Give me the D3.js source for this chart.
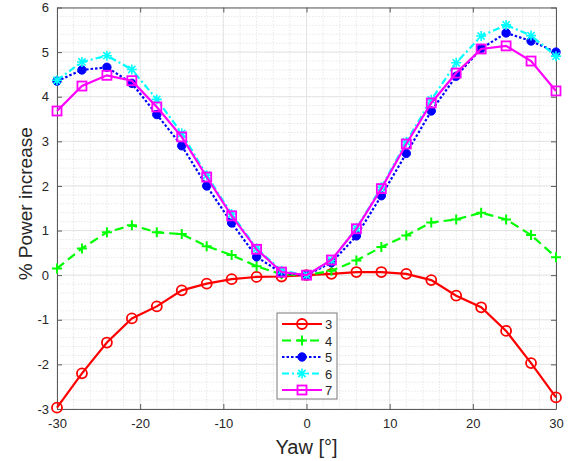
<!DOCTYPE html>
<html lang="en">
<head>
<meta charset="UTF-8">
<title>Power increase vs yaw</title>
<script src="https://d3js.org/d3.v7.min.js"></script>
<style>
    body { margin: 0; background: #fff; font-family: 'Liberation Sans', Arial, sans-serif; }
    svg text { fill: #262626; font-family: 'Liberation Sans', Arial, sans-serif; }
</style>
</head>
<body>
<div id="chart"></div>
<script>
    // Yaw angles (deg)
    const yaw = [-30, -27, -24, -21, -18, -15, -12, -9, -6, -3, 0, 3, 6, 9, 12, 15, 18, 21, 24, 27, 30];

    // % power increase per series
    const s3 = [-2.97, -2.20, -1.51, -0.97, -0.70, -0.34, -0.19, -0.09, -0.04, -0.03, 0, 0.03, 0.07, 0.07, 0.03, -0.11, -0.46, -0.72, -1.25, -1.97, -2.74];
    const s4 = [0.15, 0.60, 0.96, 1.12, 0.96, 0.92, 0.65, 0.45, 0.20, 0.02, 0, 0.10, 0.33, 0.63, 0.89, 1.18, 1.25, 1.40, 1.25, 0.90, 0.40];
    const s5 = [4.35, 4.60, 4.66, 4.30, 3.60, 2.90, 2.00, 1.17, 0.41, 0.05, 0, 0.28, 0.88, 1.78, 2.73, 3.68, 4.46, 5.08, 5.43, 5.25, 5.00];
    const s6 = [4.37, 4.78, 4.92, 4.61, 3.94, 3.18, 2.24, 1.37, 0.60, 0.10, 0, 0.33, 1.05, 1.97, 2.99, 3.93, 4.76, 5.36, 5.61, 5.37, 4.91];
    const s7 = [3.68, 4.24, 4.48, 4.36, 3.77, 3.10, 2.20, 1.33, 0.58, 0.07, 0, 0.34, 1.04, 1.94, 2.94, 3.86, 4.53, 5.07, 5.14, 4.80, 4.13];

    const seriesNames = ['3', '4', '5', '6', '7'];
    const seriesValues = [s3, s4, s5, s6, s7];
    const seriesColors = ['#ff0000', '#00ff00', '#0000ff', '#00ffff', '#ff00ff'];
    const seriesDash = [null, '9,5', '2.5,2', '7,3,2,3', null];
    const seriesMarker = ['circle', 'plus', 'dot', 'star', 'square'];

    const xTicks = [-30, -20, -10, 0, 10, 20, 30];
    const yTicks = [-3, -2, -1, 0, 1, 2, 3, 4, 5, 6];

    const width = 572, height = 461;
    const margin = {top: 7.5, right: 16, bottom: 52, left: 57};

    const svg = d3.select('#chart').append('svg')
        .attr('width', width)
        .attr('height', height);

    const x = d3.scaleLinear().domain([-30, 30]).range([margin.left, width - margin.right]);
    const y = d3.scaleLinear().domain([-3, 6]).range([height - margin.bottom, margin.top]);

    // minor grid
    const g = svg.append('g');
    g.selectAll('.mx').data(d3.range(-30, 30.01, 2))
        .join('line')
        .attr('x1', d => x(d)).attr('x2', d => x(d))
        .attr('y1', y(-3)).attr('y2', y(6))
        .attr('stroke', '#d9d9d9').attr('stroke-width', 0.6).attr('stroke-dasharray', '1.5,1.5');
    g.selectAll('.my').data(d3.range(-3, 6.01, 0.2))
        .join('line')
        .attr('x1', x(-30)).attr('x2', x(30))
        .attr('y1', d => y(d)).attr('y2', d => y(d))
        .attr('stroke', '#d9d9d9').attr('stroke-width', 0.6).attr('stroke-dasharray', '1.5,1.5');
    // major grid
    g.selectAll('.gx').data(xTicks)
        .join('line')
        .attr('x1', d => x(d)).attr('x2', d => x(d))
        .attr('y1', y(-3)).attr('y2', y(6))
        .attr('stroke', '#dcdcdc').attr('stroke-width', 0.7);
    g.selectAll('.gy').data(yTicks)
        .join('line')
        .attr('x1', x(-30)).attr('x2', x(30))
        .attr('y1', d => y(d)).attr('y2', d => y(d))
        .attr('stroke', '#dcdcdc').attr('stroke-width', 0.7);

    // axes
    const axisColor = '#5a5a5a';
    const fmt = d => String(d); // plain hyphen minus like the original
    const styleAxis = sel => {
        sel.select('.domain').attr('stroke', axisColor);
        sel.selectAll('.tick line').attr('stroke', axisColor);
        sel.selectAll('.tick text').attr('fill', '#262626')
            .style('font-family', "'Liberation Sans', Arial, sans-serif").style('font-size', '13px');
    };
    svg.append('g').attr('transform', `translate(0,${y(-3)})`)
        .call(d3.axisBottom(x).tickValues(xTicks).tickFormat(fmt).tickSize(-5).tickSizeOuter(0).tickPadding(10))
        .call(styleAxis);
    svg.append('g').attr('transform', `translate(0,${y(6)})`)
        .call(d3.axisTop(x).tickValues(xTicks).tickSize(-5).tickSizeOuter(0).tickFormat(''))
        .call(styleAxis);
    svg.append('g').attr('transform', `translate(${x(-30)},0)`)
        .call(d3.axisLeft(y).tickValues(yTicks).tickFormat(fmt).tickSize(-5).tickSizeOuter(0).tickPadding(8))
        .call(styleAxis);
    svg.append('g').attr('transform', `translate(${x(30)},0)`)
        .call(d3.axisRight(y).tickValues(yTicks).tickSize(-5).tickSizeOuter(0).tickFormat(''))
        .call(styleAxis);

    // axis labels
    svg.append('text')
        .attr('x', x(0)).attr('y', 454)
        .attr('text-anchor', 'middle')
        .style('font-size', '20px')
        .text('Yaw [°]');
    svg.append('text')
        .attr('transform', `translate(32,${y(1.6)}) rotate(-90)`)
        .attr('text-anchor', 'middle')
        .style('font-size', '19px')
        .text('% Power increase');

    function drawMarker(sel, type, color) {
        if (type === 'circle') {
            sel.append('circle').attr('r', 5).attr('fill', 'none').attr('stroke', color).attr('stroke-width', 1.8);
        } else if (type === 'dot') {
            sel.append('circle').attr('r', 4.2).attr('fill', color).attr('stroke', color);
        } else if (type === 'square') {
            sel.append('rect').attr('x', -4.5).attr('y', -4.5).attr('width', 9).attr('height', 9)
                .attr('fill', 'none').attr('stroke', color).attr('stroke-width', 1.8);
        } else if (type === 'plus') {
            sel.append('path').attr('d', 'M-5,0H5M0,-5V5').attr('stroke', color).attr('stroke-width', 2);
        } else if (type === 'star') {
            sel.append('path').attr('d', 'M-5,0H5M0,-5V5M-3.6,-3.6L3.6,3.6M-3.6,3.6L3.6,-3.6')
                .attr('stroke', color).attr('stroke-width', 1.6);
        }
    }

    const line = d3.line().x(d => x(d[0])).y(d => y(d[1]));

    seriesValues.forEach((vals, i) => {
        const pts = yaw.map((a, j) => [a, vals[j]]);
        svg.append('path')
            .attr('d', line(pts))
            .attr('fill', 'none')
            .attr('stroke', seriesColors[i])
            .attr('stroke-width', 2.2)
            .attr('stroke-dasharray', seriesDash[i]);
        svg.append('g').selectAll('g').data(pts).join('g')
            .attr('transform', d => `translate(${x(d[0])},${y(d[1])})`)
            .each(function() { drawMarker(d3.select(this), seriesMarker[i], seriesColors[i]); });
    });

    // legend
    const lg = svg.append('g').attr('transform', 'translate(277,313)');
    lg.append('rect').attr('width', 60).attr('height', 86)
        .attr('fill', '#fff').attr('stroke', '#7a7a7a').attr('stroke-width', 1);
    seriesNames.forEach((name, i) => {
        const row = lg.append('g').attr('transform', `translate(0,${11 + i * 16.5})`);
        row.append('line').attr('x1', 5).attr('x2', 45).attr('y1', 0).attr('y2', 0)
            .attr('stroke', seriesColors[i]).attr('stroke-width', 2.2)
            .attr('stroke-dasharray', seriesDash[i]);
        const m = row.append('g').attr('transform', 'translate(25,0)');
        drawMarker(m, seriesMarker[i], seriesColors[i]);
        row.append('text').attr('x', 48).attr('y', 5)
            .style('font-size', '13px').text(name);
    });
</script>
</body>
</html>
